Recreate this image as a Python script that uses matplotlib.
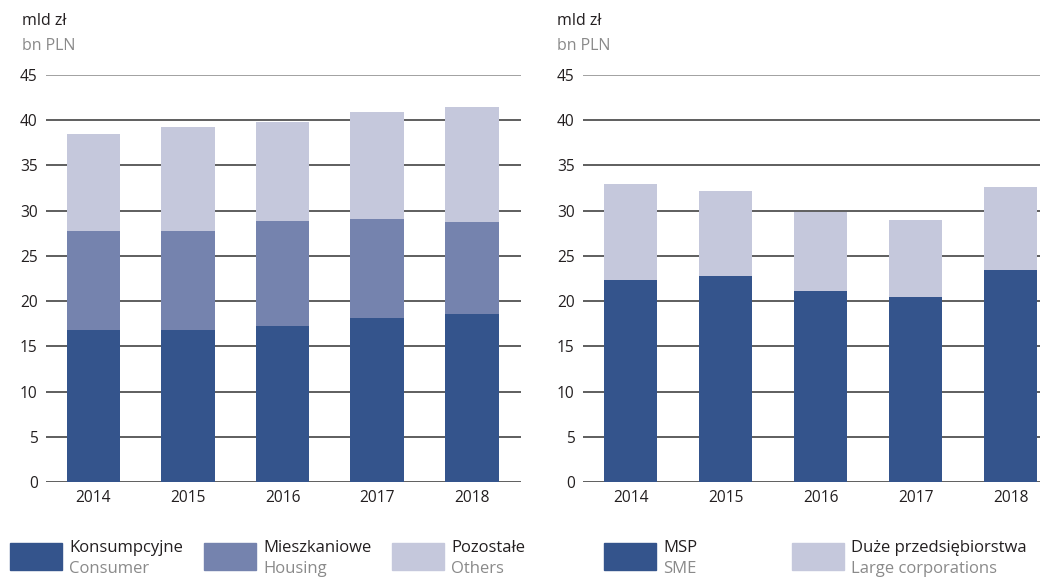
import matplotlib
matplotlib.use("Agg")
import matplotlib.pyplot as plt
from matplotlib.patches import Rectangle
import numpy as np

plt.rcParams['font.family'] = ['Open Sans', 'DejaVu Sans']

years = ["2014", "2015", "2016", "2017", "2018"]
consumer = [16.8, 16.8, 17.3, 18.1, 18.6]
housing = [11.0, 11.0, 11.6, 11.0, 10.2]
others = [10.7, 11.4, 10.9, 11.8, 12.7]
sme = [22.3, 22.8, 21.1, 20.5, 23.4]
large = [10.6, 9.4, 8.8, 8.5, 9.2]
yticks = [0, 5, 10, 15, 20, 25, 30, 35, 40, 45]

c_dark = "#34548c"
c_mid = "#7583ae"
c_light = "#c5c8dc"
txt = "#231f20"
gray_txt = "#8a8a8a"

W, H = 1048, 577
fig = plt.figure(figsize=(W / 100, H / 100), dpi=100)

def fx(px):
    return px / W

def fy(py):
    return 1 - py / H

def make_axes(left_px, right_px, xmax):
    ax = fig.add_axes([fx(left_px), fy(482), fx(right_px - left_px), fy(75) - fy(482)])
    ax.set_ylim(0, 45)
    ax.set_xlim(-0.5, xmax)
    for s in ax.spines.values():
        s.set_visible(False)
    ax.set_yticks(yticks)
    ax.set_yticklabels([str(t) for t in yticks])
    for t in yticks:
        ax.axhline(t, color="#888888" if t == 45 else "#333333", lw=1.1, zorder=0)
    ax.tick_params(axis="y", length=0, pad=6, labelsize=11.2, labelcolor=txt)
    ax.tick_params(axis="x", length=0, pad=6, labelsize=11.2, labelcolor=txt)
    ax.set_xticks(np.arange(len(years)))
    ax.set_xticklabels(years)
    return ax

x = np.arange(len(years))
bw = 0.565

ax1 = make_axes(46, 521, 4.52)
b1 = np.array(consumer)
b2 = b1 + np.array(housing)
ax1.bar(x, consumer, bw, color=c_dark, zorder=2)
ax1.bar(x, housing, bw, bottom=b1, color=c_mid, zorder=2)
ax1.bar(x, others, bw, bottom=b2, color=c_light, zorder=2)

ax2 = make_axes(583, 1040, 4.31)
ax2.bar(x, sme, bw, color=c_dark, zorder=2)
ax2.bar(x, large, bw, bottom=sme, color=c_light, zorder=2)

# unit labels
for xp in (22, 557):
    fig.text(fx(xp), fy(21), "mld zł", fontsize=11.5, color=txt, va="center", ha="left")
    fig.text(fx(xp), fy(46), "bn PLN", fontsize=11.5, color=gray_txt, va="center", ha="left")

# legend
items = [
    (10, c_dark, "Konsumpcyjne", "Consumer"),
    (204, c_mid, "Mieszkaniowe", "Housing"),
    (392, c_light, "Pozostałe", "Others"),
    (604, c_dark, "MSP", "SME"),
    (792, c_light, "Duże przedsiębiorstwa", "Large corporations"),
]
for xp, col, pl, en in items:
    fig.patches.append(Rectangle((fx(xp), fy(570)), fx(52), fy(543) - fy(570),
                                 transform=fig.transFigure, color=col, zorder=1))
    fig.text(fx(xp + 59), fy(548), pl, fontsize=12, color=txt, va="center", ha="left")
    fig.text(fx(xp + 59), fy(569), en, fontsize=12, color=gray_txt, va="center", ha="left")

fig.savefig("out.png", dpi=100)
